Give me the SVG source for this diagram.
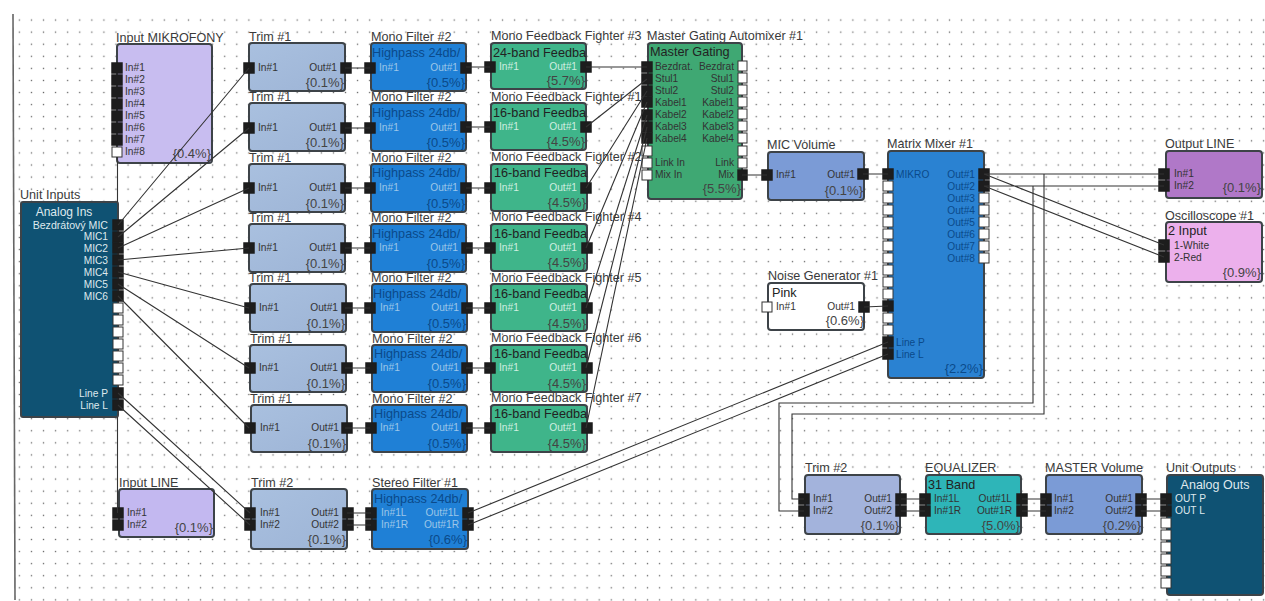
<svg xmlns="http://www.w3.org/2000/svg" width="1265" height="601" viewBox="0 0 1265 601">
<style>
text{font-family:"Liberation Sans",Arial,sans-serif;fill:#333}
.t{font-size:12.6px;fill:#3a3a3a}
.l{font-size:10.2px;fill:#333}
.r{text-anchor:end}
.c{font-size:12.7px;fill:#222}
.n{font-size:13px;fill:#444;text-anchor:end}
.w{fill:#dfe9ee}
.pale{fill:#9cc6e8}
.blue{fill:#0b4a8a}
.b{stroke:#3d4348;stroke-width:2}
.pb{fill:#1d1d1d;stroke:#1d1d1d;stroke-width:1.5}
.pw{fill:#fff;stroke:#333;stroke-width:1}
#wires path{fill:none;stroke:#333;stroke-width:1.1}
</style>
<defs>
<pattern id="dots" patternUnits="userSpaceOnUse" x="13.3" y="14" width="12.08" height="12.08"><rect x="5.4" y="5.4" width="1.3" height="1.3" fill="#666"/></pattern>
<linearGradient id="trimFill" x1="0" y1="0" x2="1" y2="1"><stop offset="0" stop-color="#a9c0df"/><stop offset="1" stop-color="#9db4d6"/></linearGradient>
</defs>
<rect width="1265" height="601" fill="#fff"/>
<rect x="16" y="14" width="1249" height="587" fill="url(#dots)"/>
<path d="M13 14L15 600" stroke="#666" stroke-width="1.6" fill="none"/>

<g id="input-mikrofony">
<text class="t" x="116" y="42">Input MIKROFONY</text>
<rect class="b" x="117" y="44" width="95" height="119" rx="3" fill="#c8bdf0"/>
<text class="l" x="125" y="71">In#1</text><text class="l" x="125" y="83">In#2</text><text class="l" x="125" y="95">In#3</text><text class="l" x="125" y="107">In#4</text><text class="l" x="125" y="119">In#5</text><text class="l" x="125" y="131">In#6</text><text class="l" x="125" y="143">In#7</text><text class="l" x="125" y="155">In#8</text>
<text class="n" x="211" y="158">{0.4%}</text>
<rect class="pb" x="112" y="63" width="10" height="10"/><rect class="pb" x="112" y="75" width="10" height="10"/><rect class="pb" x="112" y="87" width="10" height="10"/><rect class="pb" x="112" y="99" width="10" height="10"/><rect class="pb" x="112" y="111" width="10" height="10"/><rect class="pb" x="112" y="123" width="10" height="10"/><rect class="pb" x="112" y="135" width="10" height="10"/><rect class="pw" x="112" y="147" width="10" height="10"/>
</g>

<g id="unit-inputs">
<text class="t" x="20" y="199">Unit Inputs</text>
<rect class="b" x="21" y="202" width="97" height="215" rx="2" fill="#0f5273"/>
<text class="w" x="64" y="216" font-size="12" text-anchor="middle">Analog Ins</text>
<text class="l r w" x="108" y="229" style="font-size:10.6px">Bezdrátový MIC</text>
<text class="l r w" x="108" y="240">MIC1</text><text class="l r w" x="108" y="252">MIC2</text><text class="l r w" x="108" y="264">MIC3</text><text class="l r w" x="108" y="276">MIC4</text><text class="l r w" x="108" y="288">MIC5</text><text class="l r w" x="108" y="300">MIC6</text>
<text class="l r w" x="108" y="397">Line P</text><text class="l r w" x="108" y="409">Line L</text>
<rect class="pb" x="113" y="220" width="10" height="10"/><rect class="pb" x="113" y="232" width="10" height="10"/><rect class="pb" x="113" y="243" width="10" height="10"/><rect class="pb" x="113" y="255" width="10" height="10"/><rect class="pb" x="113" y="267" width="10" height="10"/><rect class="pb" x="113" y="279" width="10" height="10"/><rect class="pb" x="113" y="291" width="10" height="10"/>
<rect class="pw" x="113" y="303" width="10" height="10"/><rect class="pw" x="113" y="315" width="10" height="10"/><rect class="pw" x="113" y="327" width="10" height="10"/><rect class="pw" x="113" y="339" width="10" height="10"/><rect class="pw" x="113" y="351" width="10" height="10"/><rect class="pw" x="113" y="363" width="10" height="10"/><rect class="pw" x="113" y="375" width="10" height="10"/>
<rect class="pb" x="113" y="388" width="10" height="10"/><rect class="pb" x="113" y="400" width="10" height="10"/>
</g>

<g id="input-line">
<text class="t" x="119" y="487">Input LINE</text>
<rect class="b" x="119" y="489" width="95" height="48" rx="3" fill="#c3b8f0"/>
<text class="l" x="127" y="516">In#1</text><text class="l" x="127" y="528">In#2</text>
<text class="n" x="213" y="532">{0.1%}</text>
<rect class="pb" x="113" y="508" width="10" height="10"/><rect class="pb" x="113" y="520" width="10" height="10"/>
</g>

<g id="trim-1"><text class="t" x="249" y="41">Trim #1</text><rect class="b" x="249" y="43" width="96" height="48" rx="3" fill="url(#trimFill)"/><text class="l" x="258" y="71">In#1</text><text class="l r" x="337" y="71">Out#1</text><text class="n" x="344" y="87">{0.1%}</text><rect class="pb" x="244" y="63" width="10" height="10"/><rect class="pb" x="341" y="63" width="10" height="10"/></g>
<g id="trim-2"><text class="t" x="249" y="101">Trim #1</text><rect class="b" x="249" y="103" width="96" height="48" rx="3" fill="url(#trimFill)"/><text class="l" x="258" y="131">In#1</text><text class="l r" x="337" y="131">Out#1</text><text class="n" x="344" y="147">{0.1%}</text><rect class="pb" x="244" y="123" width="10" height="10"/><rect class="pb" x="341" y="123" width="10" height="10"/></g>
<g id="trim-3"><text class="t" x="249" y="162">Trim #1</text><rect class="b" x="249" y="164" width="96" height="48" rx="3" fill="url(#trimFill)"/><text class="l" x="258" y="191">In#1</text><text class="l r" x="337" y="191">Out#1</text><text class="n" x="344" y="208">{0.1%}</text><rect class="pb" x="244" y="183" width="10" height="10"/><rect class="pb" x="341" y="183" width="10" height="10"/></g>
<g id="trim-4"><text class="t" x="249" y="222">Trim #1</text><rect class="b" x="249" y="224" width="96" height="48" rx="3" fill="url(#trimFill)"/><text class="l" x="258" y="251">In#1</text><text class="l r" x="337" y="251">Out#1</text><text class="n" x="344" y="268">{0.1%}</text><rect class="pb" x="244" y="243" width="10" height="10"/><rect class="pb" x="341" y="243" width="10" height="10"/></g>
<g id="trim-5"><text class="t" x="249" y="282">Trim #1</text><rect class="b" x="250" y="284" width="96" height="48" rx="3" fill="url(#trimFill)"/><text class="l" x="259" y="311">In#1</text><text class="l r" x="338" y="311">Out#1</text><text class="n" x="345" y="328">{0.1%}</text><rect class="pb" x="245" y="303" width="10" height="10"/><rect class="pb" x="342" y="303" width="10" height="10"/></g>
<g id="trim-6"><text class="t" x="250" y="343">Trim #1</text><rect class="b" x="250" y="345" width="96" height="47" rx="3" fill="url(#trimFill)"/><text class="l" x="259" y="371">In#1</text><text class="l r" x="338" y="371">Out#1</text><text class="n" x="345" y="388">{0.1%}</text><rect class="pb" x="245" y="363" width="10" height="10"/><rect class="pb" x="342" y="363" width="10" height="10"/></g>
<g id="trim-7"><text class="t" x="250" y="403">Trim #1</text><rect class="b" x="251" y="405" width="96" height="47" rx="3" fill="url(#trimFill)"/><text class="l" x="260" y="431">In#1</text><text class="l r" x="339" y="431">Out#1</text><text class="n" x="346" y="448">{0.1%}</text><rect class="pb" x="245" y="423" width="10" height="10"/><rect class="pb" x="342" y="423" width="10" height="10"/></g>

<g id="filter-1"><text class="t" x="371" y="41">Mono Filter #2</text><rect class="b" x="371" y="43" width="95" height="48" rx="3" fill="#1f80d6"/><text class="c blue" x="372" y="57">Highpass 24db/</text><text class="l pale" x="379" y="71">In#1</text><text class="l r pale" x="458" y="71">Out#1</text><text class="n blue" x="465" y="87">{0.5%}</text><rect class="pb" x="365" y="63" width="10" height="10"/><rect class="pb" x="461" y="63" width="10" height="10"/></g>
<g id="filter-2"><text class="t" x="371" y="101">Mono Filter #2</text><rect class="b" x="371" y="103" width="95" height="48" rx="3" fill="#1f80d6"/><text class="c blue" x="372" y="117">Highpass 24db/</text><text class="l pale" x="379" y="131">In#1</text><text class="l r pale" x="458" y="131">Out#1</text><text class="n blue" x="465" y="147">{0.5%}</text><rect class="pb" x="365" y="123" width="10" height="10"/><rect class="pb" x="461" y="122" width="10" height="10"/></g>
<g id="filter-3"><text class="t" x="371" y="162">Mono Filter #2</text><rect class="b" x="371" y="164" width="95" height="48" rx="3" fill="#1f80d6"/><text class="c blue" x="372" y="177">Highpass 24db/</text><text class="l pale" x="379" y="191">In#1</text><text class="l r pale" x="458" y="191">Out#1</text><text class="n blue" x="465" y="208">{0.5%}</text><rect class="pb" x="365" y="183" width="10" height="10"/><rect class="pb" x="461" y="183" width="10" height="10"/></g>
<g id="filter-4"><text class="t" x="371" y="222">Mono Filter #2</text><rect class="b" x="371" y="224" width="95" height="48" rx="3" fill="#1f80d6"/><text class="c blue" x="372" y="238">Highpass 24db/</text><text class="l pale" x="379" y="251">In#1</text><text class="l r pale" x="458" y="251">Out#1</text><text class="n blue" x="465" y="268">{0.5%}</text><rect class="pb" x="365" y="243" width="10" height="10"/><rect class="pb" x="462" y="243" width="10" height="10"/></g>
<g id="filter-5"><text class="t" x="371" y="282">Mono Filter #2</text><rect class="b" x="372" y="284" width="95" height="48" rx="3" fill="#1f80d6"/><text class="c blue" x="373" y="298">Highpass 24db/</text><text class="l pale" x="380" y="311">In#1</text><text class="l r pale" x="459" y="311">Out#1</text><text class="n blue" x="466" y="328">{0.5%}</text><rect class="pb" x="365" y="303" width="10" height="10"/><rect class="pb" x="462" y="303" width="10" height="10"/></g>
<g id="filter-6"><text class="t" x="372" y="343">Mono Filter #2</text><rect class="b" x="372" y="345" width="95" height="47" rx="3" fill="#1f80d6"/><text class="c blue" x="374" y="358">Highpass 24db/</text><text class="l pale" x="380" y="371">In#1</text><text class="l r pale" x="459" y="371">Out#1</text><text class="n blue" x="466" y="388">{0.5%}</text><rect class="pb" x="366" y="363" width="10" height="10"/><rect class="pb" x="462" y="363" width="10" height="10"/></g>
<g id="filter-7"><text class="t" x="372" y="403">Mono Filter #2</text><rect class="b" x="372" y="405" width="95" height="47" rx="3" fill="#1f80d6"/><text class="c blue" x="374" y="418">Highpass 24db/</text><text class="l pale" x="380" y="431">In#1</text><text class="l r pale" x="459" y="431">Out#1</text><text class="n blue" x="466" y="448">{0.5%}</text><rect class="pb" x="366" y="423" width="10" height="10"/><rect class="pb" x="462" y="423" width="10" height="10"/></g>

<g id="fighter-3"><text class="t" x="491" y="40">Mono Feedback Fighter #3</text><rect class="b" x="491" y="43" width="95" height="46" rx="3" fill="#3fb58a"/><text class="c" x="493" y="57">24-band Feedba</text><text class="l" x="499" y="70" style="fill:#cfeee0">In#1</text><text class="l r" x="577" y="70" style="fill:#cfeee0">Out#1</text><text class="n" x="585" y="85">{5.7%}</text><rect class="pb" x="485" y="62" width="10" height="10"/><rect class="pb" x="581" y="62" width="10" height="10"/></g>
<g id="fighter-1"><text class="t" x="491" y="101">Mono Feedback Fighter #1</text><rect class="b" x="491" y="103" width="95" height="47" rx="3" fill="#3fb58a"/><text class="c" x="493" y="117">16-band Feedba</text><text class="l" x="499" y="130" style="fill:#cfeee0">In#1</text><text class="l r" x="577" y="130" style="fill:#cfeee0">Out#1</text><text class="n" x="585" y="146">{4.5%}</text><rect class="pb" x="485" y="122" width="10" height="10"/><rect class="pb" x="581" y="122" width="10" height="10"/></g>
<g id="fighter-2"><text class="t" x="491" y="161">Mono Feedback Fighter #2</text><rect class="b" x="491" y="164" width="96" height="47" rx="3" fill="#3fb58a"/><text class="c" x="494" y="177">16-band Feedba</text><text class="l" x="499" y="191" style="fill:#cfeee0">In#1</text><text class="l r" x="577" y="191" style="fill:#cfeee0">Out#1</text><text class="n" x="586" y="207">{4.5%}</text><rect class="pb" x="485" y="183" width="10" height="10"/><rect class="pb" x="581" y="183" width="10" height="10"/></g>
<g id="fighter-4"><text class="t" x="491" y="221">Mono Feedback Fighter #4</text><rect class="b" x="491" y="224" width="96" height="47" rx="3" fill="#3fb58a"/><text class="c" x="494" y="238">16-band Feedba</text><text class="l" x="499" y="251" style="fill:#cfeee0">In#1</text><text class="l r" x="577" y="251" style="fill:#cfeee0">Out#1</text><text class="n" x="586" y="267">{4.5%}</text><rect class="pb" x="485" y="243" width="10" height="10"/><rect class="pb" x="582" y="243" width="10" height="10"/></g>
<g id="fighter-5"><text class="t" x="491" y="282">Mono Feedback Fighter #5</text><rect class="b" x="491" y="284" width="96" height="47" rx="3" fill="#3fb58a"/><text class="c" x="494" y="298">16-band Feedba</text><text class="l" x="499" y="311" style="fill:#cfeee0">In#1</text><text class="l r" x="577" y="311" style="fill:#cfeee0">Out#1</text><text class="n" x="586" y="328">{4.5%}</text><rect class="pb" x="485" y="303" width="10" height="10"/><rect class="pb" x="582" y="303" width="10" height="10"/></g>
<g id="fighter-6"><text class="t" x="491" y="342">Mono Feedback Fighter #6</text><rect class="b" x="491" y="345" width="96" height="47" rx="3" fill="#3fb58a"/><text class="c" x="494" y="358">16-band Feedba</text><text class="l" x="499" y="371" style="fill:#cfeee0">In#1</text><text class="l r" x="577" y="371" style="fill:#cfeee0">Out#1</text><text class="n" x="586" y="388">{4.5%}</text><rect class="pb" x="485" y="363" width="10" height="10"/><rect class="pb" x="582" y="363" width="10" height="10"/></g>
<g id="fighter-7"><text class="t" x="491" y="402">Mono Feedback Fighter #7</text><rect class="b" x="491" y="405" width="96" height="47" rx="3" fill="#3fb58a"/><text class="c" x="494" y="418">16-band Feedba</text><text class="l" x="499" y="431" style="fill:#cfeee0">In#1</text><text class="l r" x="577" y="431" style="fill:#cfeee0">Out#1</text><text class="n" x="586" y="448">{4.5%}</text><rect class="pb" x="485" y="423" width="10" height="10"/><rect class="pb" x="582" y="423" width="10" height="10"/></g>

<g id="master-gating">
<text class="t" x="647" y="40">Master Gating Automixer #1</text>
<rect class="b" x="648" y="43" width="94" height="156" rx="3" fill="#3fa873"/>
<text class="c" x="650" y="56">Master Gating</text>
<text class="l" x="655" y="70">Bezdrat.</text><text class="l" x="655" y="82">Stul1</text><text class="l" x="655" y="94">Stul2</text><text class="l" x="655" y="106">Kabel1</text><text class="l" x="655" y="118">Kabel2</text><text class="l" x="655" y="130">Kabel3</text><text class="l" x="655" y="142">Kabel4</text><text class="l" x="655" y="166">Link In</text><text class="l" x="655" y="178">Mix In</text>
<text class="l r" x="734" y="70">Bezdrat</text><text class="l r" x="734" y="82">Stul1</text><text class="l r" x="734" y="94">Stul2</text><text class="l r" x="734" y="106">Kabel1</text><text class="l r" x="734" y="118">Kabel2</text><text class="l r" x="734" y="130">Kabel3</text><text class="l r" x="734" y="142">Kabel4</text><text class="l r" x="734" y="166">Link</text><text class="l r" x="734" y="178">Mix</text>
<text class="n" x="741" y="193">{5.5%}</text>
<rect class="pb" x="642" y="62" width="10" height="10"/><rect class="pb" x="642" y="74" width="10" height="10"/><rect class="pb" x="642" y="86" width="10" height="10"/><rect class="pb" x="642" y="97" width="10" height="10"/><rect class="pb" x="642" y="110" width="10" height="10"/><rect class="pb" x="642" y="122" width="10" height="10"/><rect class="pb" x="642" y="133" width="10" height="10"/>
<rect class="pw" x="642" y="146" width="10" height="10"/><rect class="pw" x="642" y="158" width="10" height="10"/><rect class="pw" x="642" y="170" width="10" height="10"/>
<rect class="pw" x="738" y="61" width="9" height="10"/><rect class="pw" x="738" y="73" width="9" height="10"/><rect class="pw" x="738" y="85" width="9" height="10"/><rect class="pw" x="738" y="97" width="9" height="10"/><rect class="pw" x="738" y="109" width="9" height="10"/><rect class="pw" x="738" y="121" width="9" height="10"/><rect class="pw" x="738" y="133" width="9" height="10"/><rect class="pw" x="738" y="146" width="9" height="10"/><rect class="pw" x="738" y="158" width="9" height="10"/>
<rect class="pb" x="738" y="170" width="9" height="10"/>
</g>

<g id="mic-volume"><text class="t" x="767" y="149">MIC Volume</text><rect class="b" x="768" y="152" width="96" height="48" rx="3" fill="#7b9bd6"/><text class="l" x="776" y="178">In#1</text><text class="l r" x="855" y="178">Out#1</text><text class="n" x="863" y="195">{0.1%}</text><rect class="pb" x="762" y="170" width="10" height="10"/><rect class="pb" x="858" y="169" width="10" height="10"/></g>

<g id="noise-generator"><text class="t" x="768" y="280">Noise Generator #1</text><rect class="b" x="768" y="283" width="96" height="47" rx="3" fill="#fff"/><text class="c" x="772" y="297">Pink</text><text class="l" x="776" y="310">In#1</text><text class="l r" x="855" y="310">Out#1</text><text class="n" x="864" y="325">{0.6%}</text><rect class="pw" x="762" y="302" width="10" height="10"/><rect class="pb" x="859" y="302" width="10" height="10"/></g>

<g id="matrix-mixer">
<text class="t" x="887" y="148">Matrix Mixer #1</text>
<rect class="b" x="888" y="151" width="96" height="227" rx="3" fill="#2a82d2"/>
<text class="l blue" x="896" y="178">MIKRO</text><text class="l blue" x="896" y="346">Line P</text><text class="l blue" x="896" y="358">Line L</text>
<text class="l r blue" x="975" y="178">Out#1</text><text class="l r blue" x="975" y="190">Out#2</text><text class="l r blue" x="975" y="202">Out#3</text><text class="l r blue" x="975" y="214">Out#4</text><text class="l r blue" x="975" y="226">Out#5</text><text class="l r blue" x="975" y="238">Out#6</text><text class="l r blue" x="975" y="250">Out#7</text><text class="l r blue" x="975" y="262">Out#8</text>
<text class="n blue" x="983" y="373">{2.2%}</text>
<rect class="pb" x="883" y="169" width="10" height="10"/><rect class="pw" x="883" y="181" width="10" height="10"/><rect class="pw" x="883" y="193" width="10" height="10"/><rect class="pw" x="883" y="205" width="10" height="10"/><rect class="pw" x="883" y="217" width="10" height="10"/><rect class="pw" x="883" y="229" width="10" height="10"/><rect class="pw" x="883" y="241" width="10" height="10"/><rect class="pw" x="883" y="253" width="10" height="10"/><rect class="pw" x="883" y="265" width="10" height="10"/><rect class="pw" x="883" y="277" width="10" height="10"/><rect class="pw" x="883" y="289" width="10" height="10"/><rect class="pb" x="883" y="301" width="10" height="10"/><rect class="pw" x="883" y="313" width="10" height="10"/><rect class="pw" x="883" y="325" width="10" height="10"/><rect class="pb" x="883" y="337" width="10" height="10"/><rect class="pb" x="883" y="349" width="10" height="10"/>
<rect class="pb" x="979" y="169" width="10" height="10"/><rect class="pb" x="979" y="181" width="10" height="10"/><rect class="pw" x="979" y="193" width="10" height="10"/><rect class="pw" x="979" y="205" width="10" height="10"/><rect class="pw" x="979" y="217" width="10" height="10"/><rect class="pw" x="979" y="229" width="10" height="10"/><rect class="pw" x="979" y="241" width="10" height="10"/><rect class="pw" x="979" y="253" width="10" height="10"/>
</g>

<g id="output-line"><text class="t" x="1165" y="148">Output LINE</text><rect class="b" x="1166" y="151" width="96" height="47" rx="3" fill="#b078c8"/><text class="l" x="1174" y="177">In#1</text><text class="l" x="1174" y="189">In#2</text><text class="n" x="1261" y="192">{0.1%}</text><rect class="pb" x="1159" y="169" width="10" height="10"/><rect class="pb" x="1159" y="181" width="10" height="10"/></g>

<g id="oscilloscope"><text class="t" x="1165" y="220">Oscilloscope #1</text><rect class="b" x="1166" y="222" width="96" height="60" rx="3" fill="#ecb0ec"/><text class="c" x="1168" y="235">2 Input</text><text class="l" x="1174" y="249">1-White</text><text class="l" x="1174" y="261">2-Red</text><text class="n" x="1261" y="277">{0.9%}</text><rect class="pb" x="1159" y="240" width="10" height="10"/><rect class="pb" x="1159" y="252" width="10" height="10"/></g>

<g id="trim-stereo-in"><text class="t" x="251" y="487">Trim #2</text><rect class="b" x="251" y="489" width="96" height="60" rx="3" fill="url(#trimFill)"/><text class="l" x="260" y="516">In#1</text><text class="l" x="260" y="528">In#2</text><text class="l r" x="339" y="516">Out#1</text><text class="l r" x="339" y="528">Out#2</text><text class="n" x="346" y="544">{0.1%}</text><rect class="pb" x="245" y="508" width="10" height="10"/><rect class="pb" x="245" y="520" width="10" height="10"/><rect class="pb" x="343" y="508" width="10" height="10"/><rect class="pb" x="343" y="520" width="10" height="10"/></g>

<g id="stereo-filter"><text class="t" x="372" y="487">Stereo Filter #1</text><rect class="b" x="372" y="489" width="96" height="60" rx="3" fill="#1f80d6"/><text class="c blue" x="374" y="503">Highpass 24db/</text><text class="l pale" x="381" y="516">In#1L</text><text class="l pale" x="381" y="528">In#1R</text><text class="l r pale" x="459" y="516">Out#1L</text><text class="l r pale" x="459" y="528">Out#1R</text><text class="n blue" x="467" y="544">{0.6%}</text><rect class="pb" x="366" y="508" width="10" height="10"/><rect class="pb" x="366" y="520" width="10" height="10"/><rect class="pb" x="463" y="508" width="10" height="10"/><rect class="pb" x="463" y="520" width="10" height="10"/></g>

<g id="trim-stereo-out"><text class="t" x="805" y="472">Trim #2</text><rect class="b" x="805" y="475" width="95" height="59" rx="3" fill="#a3b3dc"/><text class="l" x="813" y="502">In#1</text><text class="l" x="813" y="514">In#2</text><text class="l r" x="892" y="502">Out#1</text><text class="l r" x="892" y="514">Out#2</text><text class="n" x="899" y="530">{0.1%}</text><rect class="pb" x="799" y="494" width="10" height="10"/><rect class="pb" x="799" y="506" width="10" height="10"/><rect class="pb" x="896" y="494" width="10" height="10"/><rect class="pb" x="896" y="506" width="10" height="10"/></g>

<g id="equalizer"><text class="t" x="925" y="472">EQUALIZER</text><rect class="b" x="926" y="475" width="95" height="59" rx="3" fill="#2eb5b8"/><text class="c" x="928" y="489">31 Band</text><text class="l" x="934" y="502">In#1L</text><text class="l" x="934" y="514">In#1R</text><text class="l r" x="1012" y="502">Out#1L</text><text class="l r" x="1012" y="514">Out#1R</text><text class="n" x="1020" y="530">{5.0%}</text><rect class="pb" x="920" y="494" width="10" height="10"/><rect class="pb" x="920" y="506" width="10" height="10"/><rect class="pb" x="1017" y="494" width="10" height="10"/><rect class="pb" x="1017" y="506" width="10" height="10"/></g>

<g id="master-volume"><text class="t" x="1045" y="472">MASTER Volume</text><rect class="b" x="1046" y="475" width="96" height="59" rx="3" fill="#7b9bd6"/><text class="l" x="1054" y="502">In#1</text><text class="l" x="1054" y="514">In#2</text><text class="l r" x="1133" y="502">Out#1</text><text class="l r" x="1133" y="514">Out#2</text><text class="n" x="1141" y="530">{0.2%}</text><rect class="pb" x="1041" y="494" width="10" height="10"/><rect class="pb" x="1041" y="506" width="10" height="10"/><rect class="pb" x="1136" y="494" width="10" height="10"/><rect class="pb" x="1136" y="506" width="10" height="10"/></g>

<g id="unit-outputs"><text class="t" x="1166" y="472">Unit Outputs</text><rect class="b" x="1167" y="475" width="96" height="120" rx="3" fill="#0f5273"/><text class="w" x="1215" y="489" font-size="12.5" text-anchor="middle">Analog Outs</text><text class="l w" x="1175" y="502">OUT P</text><text class="l w" x="1175" y="514">OUT L</text>
<rect class="pb" x="1161" y="494" width="10" height="10"/><rect class="pb" x="1161" y="506" width="10" height="10"/><rect class="pw" x="1161" y="518" width="10" height="10"/><rect class="pw" x="1161" y="530" width="10" height="10"/><rect class="pw" x="1161" y="542" width="10" height="10"/><rect class="pw" x="1161" y="554" width="10" height="10"/><rect class="pw" x="1161" y="566" width="10" height="10"/><rect class="pw" x="1161" y="578" width="10" height="10"/></g>

<g id="wires">
<path d="M118 225L249 68M118 237L249 128M118 248L249 188M118 260L249 248M118 272L249 308M118 284L249 368M118 296L249 428"/>
<path d="M117.5 157V202M117.5 417V513M118 393L250 513M118 405L250 525"/>
<path d="M345 68H370M345 128H370M345 188H370M345 248H370M345 308H370M345 368H370M345 428H370"/>
<path d="M466 67H490M466 127H490M466 188H490M466 248H490M466 308H490M466 368H490M466 428H490"/>
<path d="M586 67H647M586 127L647 79M586 188L647 91M586 248L647 102M586 308L647 115M586 368L647 127M586 428L647 138"/>
<path d="M347 513H371M347 525H371M468 513L888 342M468 525L888 354"/>
<path d="M742 175H767M863 174H888M864 307L888 306"/>
<path d="M984 174H1164M984 186H1164M984 174L1164 245M984 186L1164 257"/>
<path d="M1044 174V414H792V499H804M1033 186V403H779V511H804"/>
<path d="M901 499H925M901 511H925M1022 499H1046M1022 511H1046M1141 499H1166M1141 511H1166"/>
</g>
</svg>
